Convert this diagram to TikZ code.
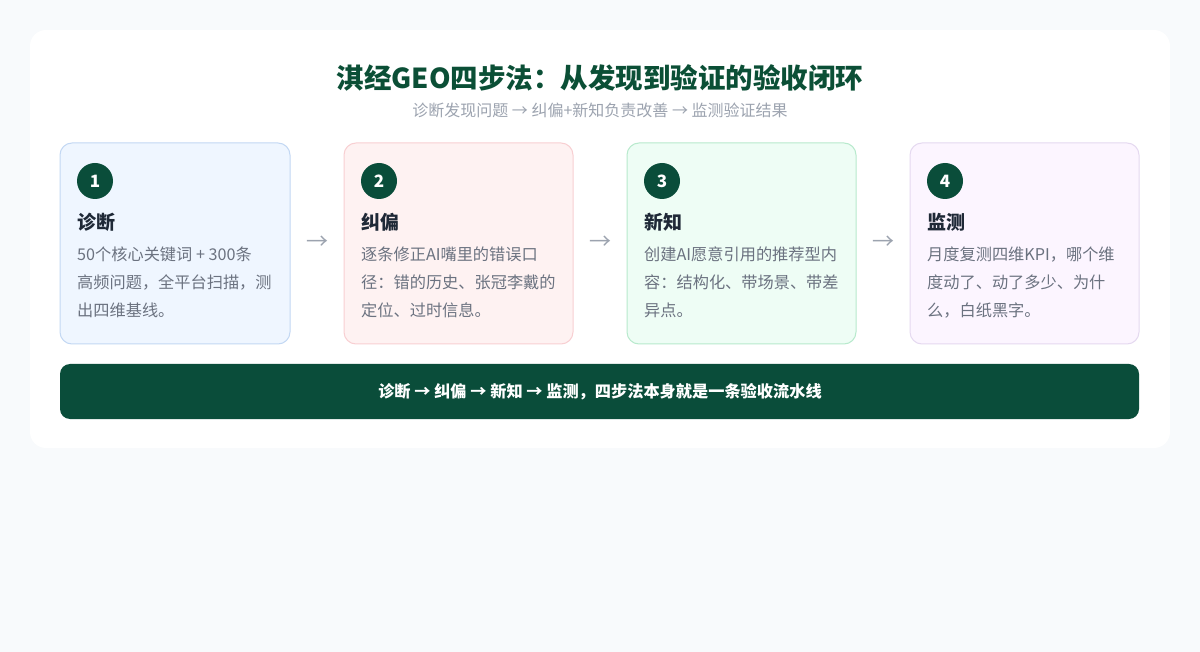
\documentclass[tikz,border=0pt]{standalone}
\usepackage{fontspec}
\setmainfont{Noto Sans CJK SC}
\definecolor{bgc}{HTML}{F8FAFC}
\definecolor{titlec}{HTML}{0B4F36}
\definecolor{subc}{HTML}{9CA3AF}
\definecolor{greenc}{HTML}{0A4D3A}
\definecolor{headc}{HTML}{1F2937}
\definecolor{bodyc}{HTML}{6B7280}
\definecolor{cafill}{HTML}{EFF6FF}\definecolor{cadraw}{HTML}{C3D8F3}
\definecolor{cbfill}{HTML}{FEF2F2}\definecolor{cbdraw}{HTML}{F8CFD2}
\definecolor{ccfill}{HTML}{EEFDF5}\definecolor{ccdraw}{HTML}{B8EACD}
\definecolor{cdfill}{HTML}{FCF5FF}\definecolor{cddraw}{HTML}{E5D9F0}
\tikzset{
  stepcard/.style={rounded corners=12pt, line width=1pt},
  numdot/.style={circle, fill=greenc, minimum size=36pt, inner sep=0pt, text=white, font=\fontsize{17}{20}\selectfont\bfseries},
  headtxt/.style={anchor=base west, inner sep=0pt, text=headc, font=\fontsize{19}{22}\selectfont\bfseries},
  bodytxt/.style={anchor=base west, inner sep=0pt, text=bodyc, align=left, font=\fontsize{16.2}{28}\selectfont},
  arrowtxt/.style={text=subc, font=\fontsize{22}{24}\selectfont},
}
\begin{document}
\begin{tikzpicture}[x=1pt,y=-1pt]
\fill[bgc] (0,0) rectangle (1200,652);
\useasboundingbox (0,0) rectangle (1200,652);
\fill[white, rounded corners=16pt] (30,30) rectangle (1170,448);
\node (title) at (600,78) {\fontsize{27.5}{30}\selectfont\bfseries\color{titlec}淇经GEO四步法：从发现到验证的验收闭环};
\node (sub) at (600,110) {\fontsize{16}{18}\selectfont\color{subc}诊断发现问题 → 纠偏+新知负责改善 → 监测验证结果};
% cards
\draw[stepcard, fill=cafill, draw=cadraw] (60,143) rectangle (290,344);
\draw[stepcard, fill=cbfill, draw=cbdraw] (344,143) rectangle (573,344);
\draw[stepcard, fill=ccfill, draw=ccdraw] (627,143) rectangle (856,344);
\draw[stepcard, fill=cdfill, draw=cddraw] (910,143) rectangle (1139,344);
% card 1
\node[numdot] (n1) at (95,181) {1};
\node[headtxt] (h1) at (77,230) {诊断};
\node[bodytxt] (b1) at (77,317) {50个核心关键词 + 300条\\高频问题，全平台扫描，测\\出四维基线。};
% card 2
\node[numdot] (n2) at (379,181) {2};
\node[headtxt] (h2) at (361,230) {纠偏};
\node[bodytxt] (b2) at (361,317) {逐条修正AI嘴里的错误口\\径：错的历史、张冠李戴的\\定位、过时信息。};
% card 3
\node[numdot] (n3) at (662,181) {3};
\node[headtxt] (h3) at (644,230) {新知};
\node[bodytxt] (b3) at (644,317) {创建AI愿意引用的推荐型内\\容：结构化、带场景、带差\\异点。};
% card 4
\node[numdot] (n4) at (945,181) {4};
\node[headtxt] (h4) at (927,230) {监测};
\node[bodytxt] (b4) at (927,317) {月度复测四维KPI，哪个维\\度动了、动了多少、为什\\么，白纸黑字。};
% arrows
\node[arrowtxt] (a1) at (317,243) {→};
\node[arrowtxt] (a2) at (600,243) {→};
\node[arrowtxt] (a3) at (883,243) {→};
% bottom bar
\fill[greenc, rounded corners=10pt] (60,364) rectangle (1139,419);
\node[text=white, font=\fontsize{16.2}{20}\selectfont\bfseries] (bar) at (600,392) {诊断 → 纠偏 → 新知 → 监测，四步法本身就是一条验收流水线};
\end{tikzpicture}
\end{document}
